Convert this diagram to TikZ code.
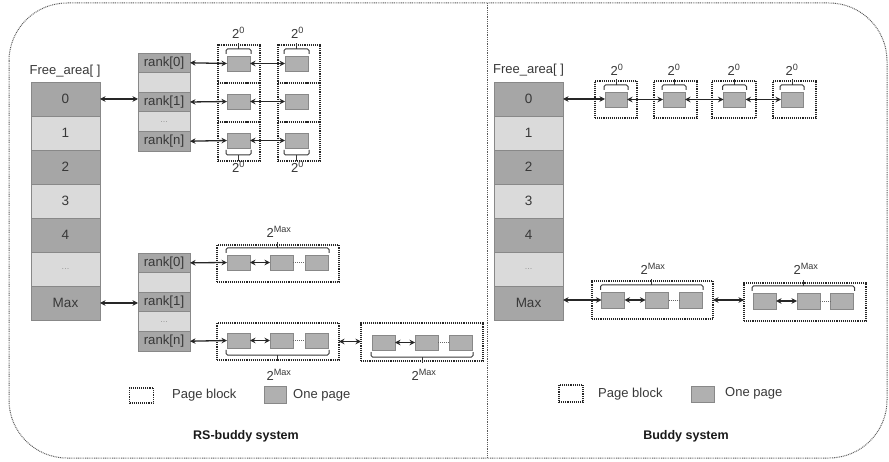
\documentclass[tikz,border=0pt]{standalone}
\usepackage{fontspec}
\setmainfont{Liberation Sans}
\usetikzlibrary{arrows.meta,calc}

\definecolor{ink}{HTML}{383838}
\definecolor{cdark}{HTML}{A6A6A6}
\definecolor{clight}{HTML}{DADADA}
\definecolor{cedge}{HTML}{888888}
\definecolor{cpage}{HTML}{B0B0B0}
\definecolor{cframe}{HTML}{5A5A5A}

% faint ellipsis used in the "..." cells
\newcommand\cellellip{{\color{black!40}\fontsize{9}{9}\selectfont ...}}

% brace above / below a run of pages, with a short tick in the middle
\newcommand\capover[2]{%
  \draw[brace] ($(#1.north west)+(-1,-2)$) -- ($(#1.north west)+(-1,-7)$)
     -- ($(#2.north east)+(1,-7)$) -- ($(#2.north east)+(1,-2)$);
  \draw[tick] ($(#1.north west)!0.5!(#2.north east)+(0,-7)$) -- ++(0,-6);}
\newcommand\capunder[2]{%
  \draw[brace] ($(#1.south west)+(-1,2)$) -- ($(#1.south west)+(-1,7)$)
     -- ($(#2.south east)+(1,7)$) -- ($(#2.south east)+(1,2)$);
  \draw[tick] ($(#1.south west)!0.5!(#2.south east)+(0,7)$) -- ++(0,6);}

\begin{document}
\begin{tikzpicture}[x=1pt,y=-1pt,
  cell/.style={draw=cedge, line width=0.7pt, minimum width=69pt, minimum height=34pt,
    inner sep=0pt, outer sep=0pt, text=ink, font=\fontsize{13.5}{15}\selectfont},
  darkcell/.style={cell, fill=cdark},
  lightcell/.style={cell, fill=clight},
  rcell/.style={draw=cedge, line width=0.7pt, minimum width=52pt, minimum height=19.6pt,
    inner sep=0pt, outer sep=0pt, text=ink, font=\fontsize{13.2}{14}\selectfont},
  rdark/.style={rcell, fill=cdark},
  rlight/.style={rcell, fill=clight},
  page/.style={draw=cedge, fill=cpage, line width=0.7pt, minimum width=23pt,
    minimum height=15pt, inner sep=0pt, outer sep=0pt},
  block/.style={draw=black!85, line width=1.3pt, dash pattern=on 1.1pt off 1pt,
    inner sep=0pt, outer sep=0pt},
  link/.style={{Stealth[length=5.5pt,width=5.5pt]}-{Stealth[length=5.5pt,width=5.5pt]},
    line width=1.3pt, draw=black!85},
  gap/.style={draw=black!60, line width=0.9pt, dash pattern=on 1pt off 1pt},
  brace/.style={draw=ink, line width=1pt, rounded corners=1.5pt},
  tick/.style={draw=ink, line width=1pt},
  lbl/.style={text=ink, font=\fontsize{13}{15}\selectfont, inner sep=0pt},
  pw/.style={text=ink, font=\fontsize{13}{15}\selectfont, inner sep=0pt},
  title/.style={text=black!90, font=\fontsize{12.5}{14}\selectfont\bfseries, inner sep=0pt},
  frame/.style={draw=cframe, line width=1pt, dash pattern=on 0.9pt off 0.9pt},
]
\useasboundingbox (0,0) rectangle (889,462);

% outer frame and the divider between the two systems
\draw[frame, rounded corners=58pt] (9,3) rectangle (887,458);
\draw[frame] (487,3) -- (487,458);

% ================= RS-buddy system =================
\node[lbl] (faL) at (65,71) {Free\_area[ ]};
\node[darkcell]  (L0) at (65.5,99)  {0};
\node[lightcell] (L1) at (65.5,133) {1};
\node[darkcell]  (L2) at (65.5,167) {2};
\node[lightcell] (L3) at (65.5,201) {3};
\node[darkcell]  (L4) at (65.5,235) {4};
\node[lightcell] (L5) at (65.5,269) {\cellellip};
\node[darkcell] (L6) at (65.5,303) {Max};

% rank list for order 0
\node[rdark]  (RA0) at (164,62.8)  {rank[0]};
\node[rlight] (RA1) at (164,82.4)  {};
\node[rdark]  (RA2) at (164,102)   {rank[1]};
\node[rlight] (RA3) at (164,121.6) {\cellellip};
\node[rdark]  (RA4) at (164,141.2) {rank[n]};

% rank list for order Max
\node[rdark]  (RB0) at (164,262.8) {rank[0]};
\node[rlight] (RB1) at (164,282.4) {};
\node[rdark]  (RB2) at (164,302)   {rank[1]};
\node[rlight] (RB3) at (164,321.6) {\cellellip};
\node[rdark]  (RB4) at (164,341.2) {rank[n]};

\draw[link] (L0.east) -- (L0.east -| RA2.west);
\draw[link] (L6.east) -- (L6.east -| RB2.west);

% order-0 blocks, two per rank
\node[block, minimum width=42pt, minimum height=38pt] (A01) at (239,64)    {};
\node[block, minimum width=42pt, minimum height=38pt] (A02) at (299,64)    {};
\node[block, minimum width=42pt, minimum height=39pt] (A11) at (239,102.5) {};
\node[block, minimum width=42pt, minimum height=39pt] (A12) at (299,102.5) {};
\node[block, minimum width=42pt, minimum height=39pt] (A21) at (239,141.5) {};
\node[block, minimum width=42pt, minimum height=39pt] (A22) at (299,141.5) {};

\node[page] (P01) at (238.5,63.5)  {};
\node[page] (P02) at (296.5,63.5)  {};
\node[page] (P11) at (238.5,101.5) {};
\node[page] (P12) at (296.5,101.5) {};
\node[page] (P21) at (238.5,140.5) {};
\node[page] (P22) at (296.5,140.5) {};

\draw[link] (RA0.east) -- (P01.west);
\draw[link] (P01.east) -- (P02.west);
\draw[link] (RA2.east) -- (P11.west);
\draw[link] (P11.east) -- (P12.west);
\draw[link] (RA4.east) -- (P21.west);
\draw[link] (P21.east) -- (P22.west);

\capover{P01}{P01} \capover{P02}{P02}
\capunder{P21}{P21} \capunder{P22}{P22}
\node[pw] (e01) at (238.5,33)  {2\textsuperscript{0}};
\node[pw] (e02) at (297.5,33)  {2\textsuperscript{0}};
\node[pw] (e21) at (238.5,167) {2\textsuperscript{0}};
\node[pw] (e22) at (297.5,167) {2\textsuperscript{0}};

% order-Max blocks
\node[block, minimum width=122pt, minimum height=37pt] (BA) at (278,263.5) {};
\node[page] (QA1) at (238.5,262.5) {};
\node[page] (QA2) at (281.5,262.5) {};
\node[page] (QA3) at (316.5,262.5) {};
\draw[link] (RB0.east) -- (QA1.west);
\draw[link] (QA1.east) -- (QA2.west);
\draw[gap]  (QA2.east) -- (QA3.west);
\capover{QA1}{QA3}
\node[pw] (eA) at (279,232) {2\textsuperscript{Max}};

\node[block, minimum width=122pt, minimum height=37pt] (BB) at (278,341.5) {};
\node[page] (QB1) at (238.5,340.5) {};
\node[page] (QB2) at (281.5,340.5) {};
\node[page] (QB3) at (316.5,340.5) {};
\draw[link] (RB4.east) -- (QB1.west);
\draw[link] (QB1.east) -- (QB2.west);
\draw[gap]  (QB2.east) -- (QB3.west);
\capunder{QB1}{QB3}
\node[pw] (eB) at (279,375) {2\textsuperscript{Max}};

\node[block, minimum width=122pt, minimum height=38pt] (BC) at (422,342) {};
\node[page] (QC1) at (383.5,342.5) {};
\node[page] (QC2) at (426.5,342.5) {};
\node[page] (QC3) at (460.5,342.5) {};
\draw[link] (QC1.east) -- (QC2.west);
\draw[gap]  (QC2.east) -- (QC3.west);
\capunder{QC1}{QC3}
\node[pw] (eC) at (424,375) {2\textsuperscript{Max}};
\draw[link] (BB.east |- BB.center) -- (BB.center -| BC.west);

% legend and caption
\node[block, minimum width=24pt, minimum height=15pt] (kbL) at (141.5,395.5) {};
\node[lbl, anchor=west] (kbLt) at (172,395) {Page block};
\node[page, minimum width=22pt, minimum height=17pt] (kpL) at (275,394.5) {};
\node[lbl, anchor=west] (kpLt) at (293,395) {One page};
\node[title] (tL) at (246,436) {RS-buddy system};

% ================= Buddy system =================
\node[lbl] (faR) at (528.5,70) {Free\_area[ ]};
\node[darkcell]  (R0) at (528.5,99)  {0};
\node[lightcell] (R1) at (528.5,133) {1};
\node[darkcell]  (R2) at (528.5,167) {2};
\node[lightcell] (R3) at (528.5,201) {3};
\node[darkcell]  (R4) at (528.5,235) {4};
\node[lightcell] (R5) at (528.5,269) {\cellellip};
\node[darkcell] (R6) at (528.5,303) {Max};

% order-0 list
\node[block, minimum width=42pt, minimum height=37pt] (T1) at (616,99.5)   {};
\node[block, minimum width=43pt, minimum height=37pt] (T2) at (675.5,99.5) {};
\node[block, minimum width=44pt, minimum height=37pt] (T3) at (734,99.5)   {};
\node[block, minimum width=43pt, minimum height=37pt] (T4) at (794.5,99.5) {};
\node[page, minimum width=22pt] (S1) at (616,99.5)   {};
\node[page, minimum width=22pt] (S2) at (674,99.5)   {};
\node[page, minimum width=22pt] (S3) at (734.5,99.5) {};
\node[page, minimum width=22pt] (S4) at (792,99.5)   {};
\draw[link] (R0.east) -- (R0.east -| S1.west);
\draw[link] (S1.east) -- (S2.west);
\draw[link] (S2.east) -- (S3.west);
\draw[link] (S3.east) -- (S4.west);
\capover{S1}{S1} \capover{S2}{S2} \capover{S3}{S3} \capover{S4}{S4}
\node[pw] (f1) at (617,70) {2\textsuperscript{0}};
\node[pw] (f2) at (674,70) {2\textsuperscript{0}};
\node[pw] (f3) at (734,70) {2\textsuperscript{0}};
\node[pw] (f4) at (792,70) {2\textsuperscript{0}};

% order-Max list
\node[block, minimum width=121pt, minimum height=38pt] (V1) at (652.5,300) {};
\node[page, minimum height=16pt] (U11) at (613,300)   {};
\node[page, minimum height=16pt] (U12) at (657,300)   {};
\node[page, minimum height=16pt] (U13) at (690.5,300) {};
\node[block, minimum width=122pt, minimum height=38pt] (V2) at (805,302) {};
\node[page, minimum height=16pt] (U21) at (764.5,301) {};
\node[page, minimum height=16pt] (U22) at (808.5,301) {};
\node[page, minimum height=16pt] (U23) at (842,301)   {};
\draw[link] (R6.east |- U11.west) -- (U11.west);
\draw[link] (U11.east) -- (U12.west);
\draw[gap]  (U12.east) -- (U13.west);
\draw[link] (U21.east) -- (U22.west);
\draw[gap]  (U22.east) -- (U23.west);
\draw[link] (V1.east |- U11.center) -- (U11.center -| V2.west);
\capover{U11}{U13} \capover{U21}{U23}
\node[pw] (g1) at (653,269) {2\textsuperscript{Max}};
\node[pw] (g2) at (806,269) {2\textsuperscript{Max}};

% legend and caption
\node[block, minimum width=24pt, minimum height=17pt] (kbR) at (571,393.5) {};
\node[lbl, anchor=west] (kbRt) at (598,394) {Page block};
\node[page, minimum width=23pt, minimum height=16pt] (kpR) at (702.5,394) {};
\node[lbl, anchor=west] (kpRt) at (725,393) {One page};
\node[title] (tR) at (686,436) {Buddy system};
\end{tikzpicture}
\end{document}
